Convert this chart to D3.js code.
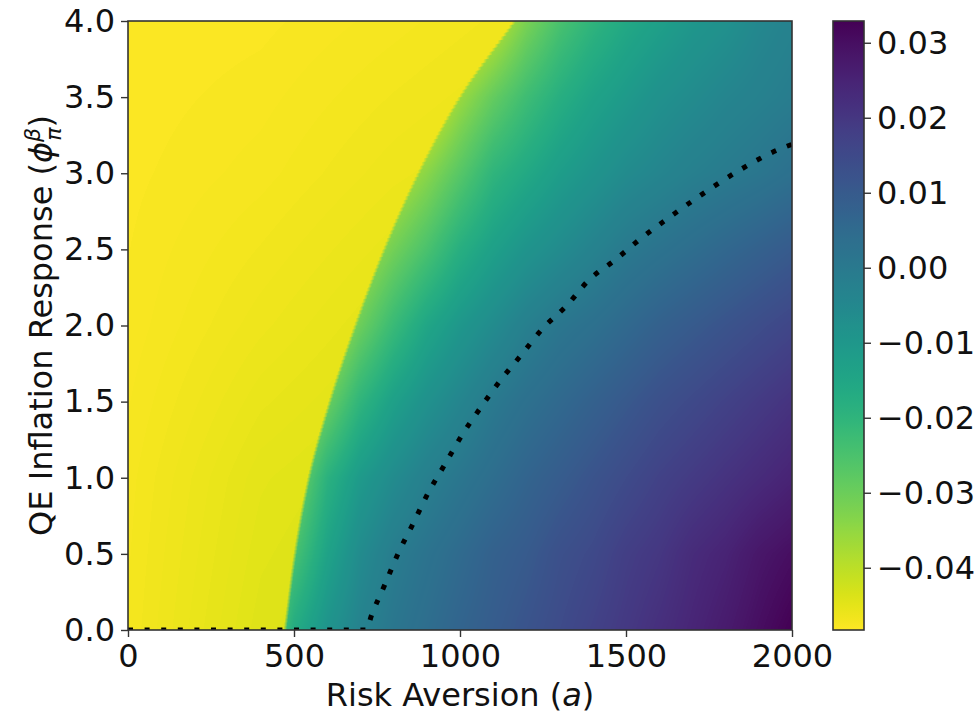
<!DOCTYPE html>
<html><head><meta charset="utf-8">
<script src="https://cdn.jsdelivr.net/npm/d3@7"></script>
<style>
body{margin:0;background:#fff}
svg{display:block}
text{font-family:"DejaVu Sans",sans-serif}
</style>
</head><body>
<svg id="chart" width="979" height="717"></svg>
<script>
// ---------------- data ----------------
const xTicks = [0, 500, 1000, 1500, 2000];
const yTicks = [0, 0.5, 1.0, 1.5, 2.0, 2.5, 3.0, 3.5, 4.0];
const cbTicks = [-0.04, -0.03, -0.02, -0.01, 0.00, 0.01, 0.02, 0.03];
const vMin = -0.0483, vMax = 0.0329;

// boundary between the flat (yellow) region and the graded region
const boundaryPhi = [0, 0.5, 1.0, 1.5, 2.0, 2.5, 3.0, 3.5, 4.0];
const boundaryA   = [473, 503, 545, 608, 685, 772, 875, 1000, 1165];

// flat region values (left of boundary)
const flatA   = [0, 400, 800, 1200];
const flatPhi = [0, 1, 2, 3, 4];
const flatRow0 = [-0.0470, -0.0443, -0.0433, -0.0433];
const flatRow1 = [-0.0472, -0.0449, -0.0440, -0.0440];
const flatRow2 = [-0.0476, -0.0462, -0.0450, -0.0445];
const flatRow3 = [-0.0478, -0.0472, -0.0462, -0.0455];
const flatRow4 = [-0.0480, -0.0478, -0.0472, -0.0465];

// graded region values (right of boundary)
const gradA   = [400, 500, 600, 700, 800, 900, 1000, 1100, 1200, 1300, 1400, 1500, 1600, 1700, 1800, 1900, 2000];
const gradPhi = [0, 0.5, 1.0, 1.5, 2.0, 2.5, 3.0, 3.5, 4.0];
const gradRow00 = [-0.034, -0.017, -0.009, -0.003, 0.001, 0.004, 0.007, 0.0095, 0.012, 0.0145, 0.017, 0.0195, 0.022, 0.0245, 0.027, 0.030, 0.033];
const gradRow05 = [-0.036, -0.025, -0.014, -0.006, -0.001, 0.002, 0.005, 0.008, 0.010, 0.013, 0.015, 0.018, 0.020, 0.023, 0.025, 0.028, 0.030];
const gradRow10 = [-0.042, -0.032, -0.019, -0.011, -0.006, -0.002, 0.001, 0.004, 0.007, 0.0095, 0.012, 0.0145, 0.017, 0.019, 0.021, 0.023, 0.025];
const gradRow15 = [-0.046, -0.040, -0.030, -0.020, -0.013, -0.008, -0.004, 0.000, 0.003, 0.0055, 0.008, 0.0105, 0.013, 0.015, 0.017, 0.019, 0.021];
const gradRow20 = [-0.048, -0.046, -0.040, -0.030, -0.022, -0.015, -0.010, -0.006, -0.002, 0.001, 0.003, 0.0055, 0.008, 0.010, 0.012, 0.014, 0.016];
const gradRow25 = [-0.048, -0.048, -0.048, -0.038, -0.031, -0.025, -0.018, -0.013, -0.009, -0.006, -0.003, 0.000, 0.002, 0.004, 0.006, 0.008, 0.010];
const gradRow30 = [-0.048, -0.048, -0.048, -0.046, -0.040, -0.034, -0.027, -0.020, -0.016, -0.012, -0.009, -0.006, -0.004, -0.002, -0.0005, 0.001, 0.003];
const gradRow35 = [-0.048, -0.048, -0.048, -0.048, -0.048, -0.045, -0.036, -0.029, -0.023, -0.018, -0.014, -0.011, -0.008, -0.006, -0.004, -0.0025, -0.001];
const gradRow40 = [-0.048, -0.048, -0.048, -0.048, -0.048, -0.048, -0.047, -0.041, -0.032, -0.025, -0.020, -0.016, -0.013, -0.010, -0.008, -0.005, -0.003];

// dotted curve
const curveA   = [0, 717, 734, 774, 813, 859, 904, 955, 1006, 1062, 1122, 1186, 1249, 1321, 1389, 1467, 1544, 1624, 1708, 1834, 1964, 2000];
const curvePhi = [0, 0, 0.10, 0.30, 0.50, 0.70, 0.90, 1.09, 1.28, 1.46, 1.64, 1.81, 1.98, 2.13, 2.30, 2.43, 2.57, 2.70, 2.83, 3.01, 3.16, 3.19];

const flatGrid = [flatRow0, flatRow1, flatRow2, flatRow3, flatRow4];
const gradGrid = [gradRow00, gradRow05, gradRow10, gradRow15, gradRow20, gradRow25, gradRow30, gradRow35, gradRow40];

// ---------------- layout ----------------
const FS = 32;
const svg = d3.select("#chart");
const x = d3.scaleLinear().domain([0, 2000]).range([128, 792]);
const y = d3.scaleLinear().domain([0, 4]).range([630, 21]);
const color = d3.scaleSequential(d3.interpolateViridis).domain([vMax, vMin]);
const cbX0 = 833, cbX1 = 864;
const cbY = d3.scaleLinear().domain([vMin, vMax]).range([630, 21]);

// smooth (monotone cubic) curve through the boundary points
function monotone(xs, ys) {
  const n = xs.length, d = [], m = new Array(n);
  for (let i = 0; i < n - 1; i++) d.push((ys[i + 1] - ys[i]) / (xs[i + 1] - xs[i]));
  m[0] = d[0]; m[n - 1] = d[n - 2];
  for (let i = 1; i < n - 1; i++) m[i] = d[i - 1] * d[i] <= 0 ? 0 : 2 / (1 / d[i - 1] + 1 / d[i]);
  return function (t) {
    t = Math.max(xs[0], Math.min(xs[n - 1], t));
    let i = Math.max(0, Math.min(n - 2, d3.bisectRight(xs, t) - 1));
    const h = xs[i + 1] - xs[i], s = (t - xs[i]) / h;
    const h00 = 2 * s * s * s - 3 * s * s + 1, h10 = s * s * s - 2 * s * s + s;
    const h01 = -2 * s * s * s + 3 * s * s, h11 = s * s * s - s * s;
    return h00 * ys[i] + h10 * h * m[i] + h01 * ys[i + 1] + h11 * h * m[i + 1];
  };
}
const boundary = monotone(boundaryPhi, boundaryA);

function bilinear(cols, rows, grid, a, p) {
  const i = Math.max(0, Math.min(cols.length - 2, d3.bisectRight(cols, a) - 1));
  const j = Math.max(0, Math.min(rows.length - 2, d3.bisectRight(rows, p) - 1));
  const ta = Math.max(0, Math.min(1, (a - cols[i]) / (cols[i + 1] - cols[i])));
  const tp = Math.max(0, Math.min(1, (p - rows[j]) / (rows[j + 1] - rows[j])));
  const r0 = grid[j][i] * (1 - ta) + grid[j][i + 1] * ta;
  const r1 = grid[j + 1][i] * (1 - ta) + grid[j + 1][i + 1] * ta;
  return r0 * (1 - tp) + r1 * tp;
}

// colour lookup built from the colour scale
const LUTN = 2048;
const lut = d3.range(LUTN).map(k => d3.rgb(color(vMin + (vMax - vMin) * k / (LUTN - 1))));
function rgbOf(v) {
  let k = Math.round((v - vMin) / (vMax - vMin) * (LUTN - 1));
  return lut[Math.max(0, Math.min(LUTN - 1, k))];
}

// ---------------- heatmap raster ----------------
const X0 = x(0), X1 = x(2000), Y0 = y(4), Y1 = y(0);
const W = Math.round(X1 - X0), H = Math.round(Y1 - Y0);
const cnv = document.createElement("canvas");
cnv.width = W; cnv.height = H;
const ctx = cnv.getContext("2d");
const img = ctx.createImageData(W, H);
const stepPhi = 0.025;
for (let py = 0; py < H; py++) {
  const p = y.invert(Y0 + py + 0.5);
  const pq = (Math.floor(p / stepPhi) + 0.5) * stepPhi;
  const fy = (p / stepPhi) - Math.floor(p / stepPhi);
  const bA = boundary(pq);
  const bNext = boundary(pq + stepPhi), bPrev = boundary(pq - stepPhi);
  // slightly soften the corners of the stair steps
  let bLoc = bA;
  if (fy > 0.85) bLoc = bA + (bNext - bA) * (fy - 0.85) / 0.3;
  else if (fy < 0.15) bLoc = bA + (bPrev - bA) * (0.15 - fy) / 0.3;
  const xb = x(bLoc);
  for (let px = 0; px < W; px++) {
    const xp = X0 + px + 0.5;
    const a = x.invert(xp);
    const w = Math.max(0, Math.min(1, (xp - xb) / 3.5 + 0.5));
    const cR = w > 0 ? rgbOf(bilinear(gradA, gradPhi, gradGrid, Math.max(a, bLoc), p)) : null;
    const cL = w < 1 ? rgbOf(bilinear(flatA, flatPhi, flatGrid, a, p)) : null;
    let r, g, b;
    if (w >= 1) { r = cR.r; g = cR.g; b = cR.b; }
    else if (w <= 0) { r = cL.r; g = cL.g; b = cL.b; }
    else { r = cL.r + (cR.r - cL.r) * w; g = cL.g + (cR.g - cL.g) * w; b = cL.b + (cR.b - cL.b) * w; }
    const o = (py * W + px) * 4;
    img.data[o] = r; img.data[o + 1] = g; img.data[o + 2] = b; img.data[o + 3] = 255;
  }
}
ctx.putImageData(img, 0, 0);

svg.append("image")
  .attr("x", X0).attr("y", Y0).attr("width", W).attr("height", H)
  .attr("preserveAspectRatio", "none")
  .attr("href", cnv.toDataURL());

// ---------------- dotted curve ----------------
svg.append("clipPath").attr("id", "plotclip")
  .append("rect").attr("x", X0).attr("y", Y0).attr("width", X1 - X0).attr("height", Y1 - Y0);
const curvePts = curveA.map((a, i) => [a, curvePhi[i]]);
svg.append("path")
  .datum(curvePts)
  .attr("clip-path", "url(#plotclip)")
  .attr("fill", "none")
  .attr("stroke", "#000")
  .attr("stroke-width", 5)
  .attr("stroke-dasharray", "5,11.6")
  .attr("d", d3.line().x(d => x(d[0])).y(d => y(d[1])).curve(d3.curveMonotoneX));

// frame
svg.append("rect").attr("x", X0).attr("y", Y0).attr("width", X1 - X0).attr("height", Y1 - Y0)
  .attr("fill", "none").attr("stroke", "#333").attr("stroke-width", 1.6);

// ---------------- axes ----------------
function styleAxis(g) {
  g.select(".domain").remove();
  g.selectAll(".tick line").attr("stroke", "#333").attr("stroke-width", 1.4);
  g.selectAll(".tick text").attr("fill", "#111").style("font-size", FS + "px")
   .style("font-family", '"DejaVu Sans", sans-serif');
}
svg.append("g").attr("transform", `translate(0,${Y1})`)
  .call(d3.axisBottom(x).tickValues(xTicks).tickFormat(d3.format("d")).tickSize(7).tickPadding(7))
  .call(styleAxis);
svg.append("g").attr("transform", `translate(${X0},0)`)
  .call(d3.axisLeft(y).tickValues(yTicks).tickFormat(d3.format(".1f")).tickSize(7).tickPadding(6))
  .call(styleAxis);

// ---------------- colorbar ----------------
const defs = svg.append("defs");
const grad = defs.append("linearGradient").attr("id", "cbgrad")
  .attr("x1", 0).attr("y1", 1).attr("x2", 0).attr("y2", 0);
d3.range(0, 1.0001, 0.02).forEach(t => {
  grad.append("stop").attr("offset", t).attr("stop-color", color(vMin + t * (vMax - vMin)));
});
svg.append("rect").attr("x", cbX0).attr("y", cbY(vMax)).attr("width", cbX1 - cbX0)
  .attr("height", cbY(vMin) - cbY(vMax)).attr("fill", "url(#cbgrad)")
  .attr("stroke", "#333").attr("stroke-width", 1.6);
svg.append("g").attr("transform", `translate(${cbX1},0)`)
  .call(d3.axisRight(cbY).tickValues(cbTicks).tickFormat(d3.format(".2f")).tickSize(7).tickPadding(6))
  .call(styleAxis);

// ---------------- axis labels ----------------
const xl = svg.append("text").attr("x", (X0 + X1) / 2).attr("y", 706)
  .attr("text-anchor", "middle").style("font-size", FS + "px").attr("fill", "#111");
xl.append("tspan").text("Risk Aversion (");
xl.append("tspan").attr("font-style", "italic").text("a");
xl.append("tspan").text(")");

const yl = svg.append("text")
  .attr("transform", `translate(52,${(Y0 + Y1) / 2}) rotate(-90)`)
  .attr("text-anchor", "middle").style("font-size", FS + "px").attr("fill", "#111");
yl.append("tspan").text("QE Inflation Response (");
yl.append("tspan").attr("font-style", "italic").text("\u03D5");
yl.append("tspan").attr("font-style", "italic").style("font-size", "22px").attr("dy", -12).text("\u03B2");
yl.append("tspan").attr("font-style", "italic").style("font-size", "22px").attr("dx", -13).attr("dy", 21).text("\u03C0");
yl.append("tspan").attr("dy", -9).text(")");
</script>
</body></html>
